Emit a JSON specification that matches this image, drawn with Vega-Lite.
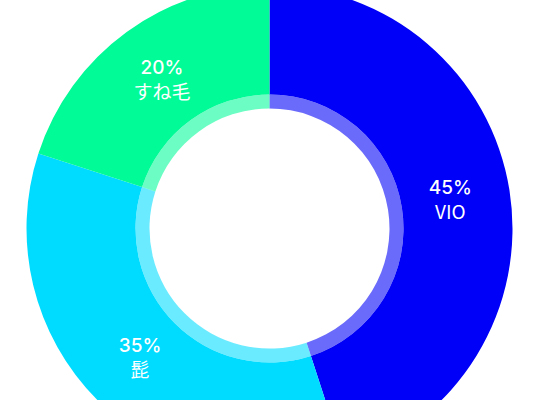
{
  "$schema": "https://vega.github.io/schema/vega-lite/v6.json",
  "width": 539,
  "height": 343,
  "autosize": {"type": "none"},
  "padding": {"top": 57, "left": 0, "right": 1, "bottom": 0},
  "background": "white",
  "view": {"stroke": null},
  "data": {
    "values": [
      {"category": "VIO", "value": 45, "pct": "45%", "rank": 1},
      {"category": "髭", "value": 35, "pct": "35%", "rank": 2},
      {"category": "すね毛", "value": 20, "pct": "20%", "rank": 3}
    ]
  },
  "encoding": {
    "theta": {"field": "value", "type": "quantitative", "stack": true},
    "order": {"field": "rank", "type": "quantitative"},
    "color": {
      "field": "category",
      "type": "nominal",
      "scale": {"domain": ["VIO", "髭", "すね毛"], "range": ["#0000f8", "#00dcff", "#00fb97"]},
      "legend": null
    }
  },
  "layer": [
    {"mark": {"type": "arc", "radius": 243, "radius2": 134}},
    {"mark": {"type": "arc", "radius": 134, "radius2": 120, "opacity": 0.58}},
    {
      "mark": {"type": "text", "radius": 183, "dy": -12, "fontSize": 19, "fontWeight": 500, "font": "Inter", "fill": "white"},
      "encoding": {"text": {"field": "pct"}, "color": {"value": "white"}}
    },
    {
      "mark": {"type": "text", "radius": 183, "dy": 13, "fontSize": 19, "fontWeight": 400, "font": "Noto Sans CJK JP", "fill": "white"},
      "encoding": {"text": {"field": "category"}, "color": {"value": "white"}}
    }
  ]
}
